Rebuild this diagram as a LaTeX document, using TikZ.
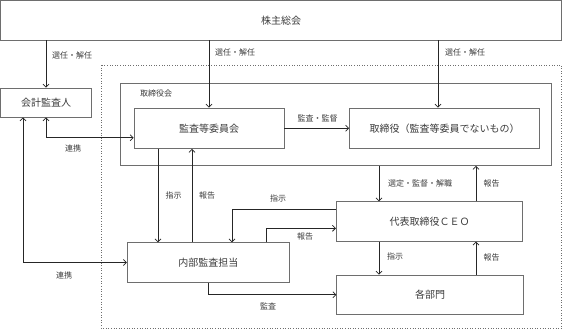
\documentclass[tikz,border=0pt]{standalone}
\usepackage{fontspec}
\setmainfont{Noto Sans CJK JP}
\usetikzlibrary{arrows.meta}
\definecolor{boxline}{HTML}{6E6E6E}
\definecolor{txt}{HTML}{3C3C3C}
\tikzset{
  box/.style={draw=boxline, line width=0.6pt, fill=white, text=txt,
    font=\fontsize{10}{12}\selectfont, inner sep=0pt},
  lbl/.style={text=txt, font=\fontsize{8}{10}\selectfont, inner sep=0pt},
  conn/.style={line width=0.8pt, draw=black!85},
}
\begin{document}
\begin{tikzpicture}[x=1pt, y=-1pt, >={Straight Barb[length=3pt,width=6pt]}]
  \useasboundingbox (0,0) rectangle (567,329);
  % 点線の枠と取締役会
  \draw[dotted, boxline, line width=0.6pt] (101,65) rectangle (561.5,328);
  \node[box, minimum width=430.5pt, minimum height=82.5pt] (tb) at (335.75,124.25) {};
  \node[lbl, anchor=west] (tbl) at (140,93) {取締役会};
  % 各ボックス
  \node[box, minimum width=561pt, minimum height=39.5pt] (sh) at (281,20.25) {株主総会};
  \node[box, minimum width=91pt, minimum height=29pt] (kaikei) at (46,102.5) {会計監査人};
  \node[box, minimum width=150pt, minimum height=40.5pt] (iin) at (209,128.25) {監査等委員会};
  \node[box, minimum width=190pt, minimum height=40.5pt] (tori) at (444.5,128.25) {取締役（監査等委員でないもの）};
  \node[box, minimum width=162pt, minimum height=39.5pt] (naibu) at (208.25,262.5) {内部監査担当};
  \node[box, minimum width=186.5pt, minimum height=39.5pt] (ceo) at (429.5,221.5) {代表取締役ＣＥＯ};
  \node[box, minimum width=186.5pt, minimum height=39.5pt] (bumon) at (430,294.75) {各部門};
  % 縦線の位置
  \coordinate (xkl) at (23,0);
  \coordinate (xsj) at (158,0);
  \coordinate (xhk) at (192,0);
  \coordinate (xcs) at (232,0);
  \coordinate (xch) at (266,0);
  \coordinate (xl) at (379,0);
  \coordinate (xt) at (438,0);
  \coordinate (xr) at (476,0);
  % 株主総会から
  \draw[conn, ->] (sh.south -| kaikei.north) -- (kaikei.north);
  \draw[conn, ->] (sh.south -| iin.north) -- (iin.north);
  \draw[conn, ->] (sh.south -| xt) -- (tori.north -| xt);
  % 連携
  \draw[conn, <->] (kaikei.south) |- ([yshift=-9.5pt]iin.west);
  \draw[conn, <->] (kaikei.south -| xkl) |- (naibu.west);
  % 監査等委員会と内部監査担当
  \draw[conn, ->] (iin.east) -- (tori.west);
  \draw[conn, ->] (iin.south -| xsj) -- (naibu.north -| xsj);
  \draw[conn, ->] (naibu.north -| xhk) -- (iin.south -| xhk);
  % 代表取締役ＣＥＯまわり
  \draw[conn, ->] ([yshift=12.5pt]ceo.west) -| (naibu.north -| xcs);
  \draw[conn, ->] (naibu.north -| xch) |- ([yshift=-6.8pt]ceo.west);
  \draw[conn, ->] (naibu.south) |- (bumon.west);
  \draw[conn, ->] (tb.south -| xl) -- (ceo.north -| xl);
  \draw[conn, ->] (ceo.north -| xr) -- (tb.south -| xr);
  \draw[conn, ->] (ceo.south -| xl) -- (bumon.north -| xl);
  \draw[conn, ->] (bumon.north -| xr) -- (ceo.south -| xr);
  % ラベル
  \node[lbl, anchor=west] (l1) at (52,55) {選任・解任};
  \node[lbl, anchor=west] (l2) at (215,52) {選任・解任};
  \node[lbl, anchor=west] (l3) at (445,52) {選任・解任};
  \node[lbl] (l4) at (73,148) {連携};
  \node[lbl] (l5) at (64,275) {連携};
  \node[lbl] (l6) at (317.5,118.3) {監査・監督};
  \node[lbl] (l7) at (173.5,195) {指示};
  \node[lbl] (l8) at (207,195) {報告};
  \node[lbl] (l9) at (278,198) {指示};
  \node[lbl] (l10) at (305,236.7) {報告};
  \node[lbl] (l11) at (268,306) {監査};
  \node[lbl] (l12) at (420,183.3) {選定・監督・解職};
  \node[lbl] (l13) at (491.5,183) {報告};
  \node[lbl] (l14) at (395,256.7) {指示};
  \node[lbl] (l15) at (491.5,257) {報告};
\end{tikzpicture}
\end{document}
